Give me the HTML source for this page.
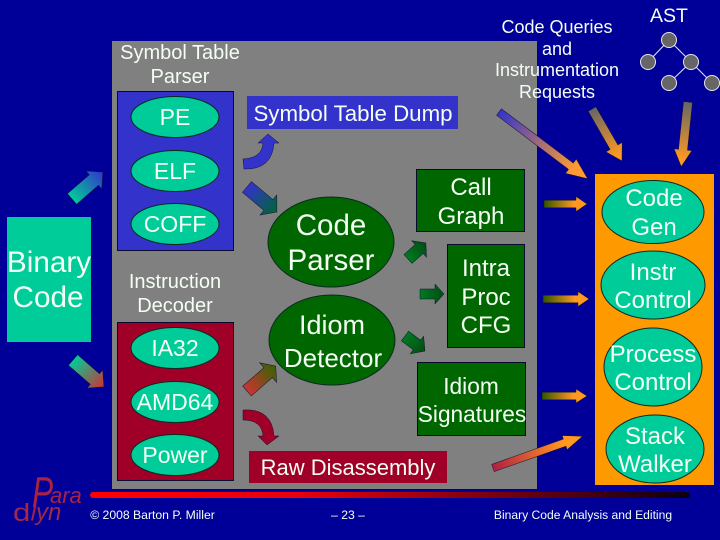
<!DOCTYPE html>
<html><head><meta charset="utf-8"><style>
html,body{margin:0;padding:0;background:#000099}
svg{display:block}
text{font-family:"Liberation Sans",sans-serif;fill:#f4fff4;text-anchor:middle}
.e{stroke:#0a2a20;stroke-width:1}
.b{stroke:#0a0a30;stroke-width:1}
.a{stroke:#101030;stroke-width:.5}
</style></head><body>
<svg width="720" height="540" viewBox="0 0 720 540" xmlns="http://www.w3.org/2000/svg">
<defs>
<linearGradient id="g1"><stop offset="0" stop-color="#00cc99"/><stop offset="1" stop-color="#3333cc"/></linearGradient>
<linearGradient id="g2"><stop offset="0" stop-color="#00cc99"/><stop offset="1" stop-color="#cc3333"/></linearGradient>
<linearGradient id="g3"><stop offset="0" stop-color="#3333cc"/><stop offset="1" stop-color="#006633"/></linearGradient>
<linearGradient id="g4"><stop offset="0" stop-color="#cc3333"/><stop offset="1" stop-color="#336600"/></linearGradient>
<linearGradient id="g5"><stop offset="0" stop-color="#007a22"/><stop offset="1" stop-color="#004d10"/></linearGradient>
<linearGradient id="g6"><stop offset="0" stop-color="#3333cc"/><stop offset=".85" stop-color="#ff9933"/></linearGradient>
<linearGradient id="g7"><stop offset="0" stop-color="#666666"/><stop offset=".9" stop-color="#ff9922"/></linearGradient>
<linearGradient id="g8"><stop offset="0" stop-color="#335500"/><stop offset=".7" stop-color="#ff9922"/></linearGradient>
<linearGradient id="g9"><stop offset="0" stop-color="#b02040"/><stop offset=".8" stop-color="#ff9922"/></linearGradient>
<linearGradient id="line"><stop offset="0" stop-color="#ff0000"/><stop offset=".35" stop-color="#e8000c"/><stop offset="1" stop-color="#0a0010"/></linearGradient>
</defs>
<rect width="720" height="540" fill="#000099"/>
<rect x="112" y="41" width="425" height="448" fill="#808080"/>
<rect x="90" y="492" width="600" height="6" rx="3" fill="url(#line)"/>

<!-- Symbol table parser -->
<text x="180" y="59" font-size="20">Symbol Table</text>
<text x="180" y="83" font-size="20">Parser</text>
<rect class="b" x="117.500" y="91.500" width="116" height="159" fill="#3333cc"/>
<ellipse class="e" cx="175" cy="117" rx="44" ry="20.500" fill="#00cc99"/>
<ellipse class="e" cx="175" cy="171" rx="44" ry="20.500" fill="#00cc99"/>
<ellipse class="e" cx="175" cy="224" rx="44" ry="20.500" fill="#00cc99"/>
<text x="175" y="125" font-size="23">PE</text>
<text x="175" y="179" font-size="23">ELF</text>
<text x="175" y="232" font-size="23">COFF</text>

<!-- Binary -->
<rect x="7" y="217" width="84" height="125" fill="#00cc99"/>
<text x="49" y="272" font-size="29.700">Binary</text>
<text x="48" y="307" font-size="29.700">Code</text>

<rect x="247" y="96" width="211" height="33" fill="#3333cc"/>
<text x="353" y="121" font-size="22.300">Symbol Table Dump</text>

<!-- Instruction decoder -->
<text x="175" y="288" font-size="20">Instruction</text>
<text x="175" y="312" font-size="20">Decoder</text>
<rect class="b" x="117.500" y="322.500" width="116" height="158" fill="#a00028"/>
<ellipse class="e" cx="175" cy="348" rx="44" ry="20.500" fill="#00cc99"/>
<ellipse class="e" cx="175" cy="402" rx="44" ry="20.500" fill="#00cc99"/>
<ellipse class="e" cx="175" cy="455" rx="44" ry="20.500" fill="#00cc99"/>
<text x="175" y="356" font-size="23">IA32</text>
<text x="175" y="410" font-size="23">AMD64</text>
<text x="175" y="463" font-size="23">Power</text>

<!-- Code parser / idiom -->
<ellipse class="e" cx="331" cy="242" rx="63" ry="45" fill="#006600"/>
<text x="331" y="235" font-size="29.500">Code</text>
<text x="331" y="270" font-size="29.500">Parser</text>
<ellipse class="e" cx="332" cy="340" rx="63" ry="45" fill="#006600"/>
<text x="332" y="334" font-size="27">Idiom</text>
<text x="333" y="367" font-size="26">Detector</text>

<rect x="249" y="451" width="198" height="32" fill="#a00028"/>
<text x="348" y="475" font-size="22">Raw Disassembly</text>

<!-- Green boxes -->
<rect class="b" x="416.500" y="169.500" width="108" height="62" fill="#006600"/>
<text x="471" y="195" font-size="24">Call</text>
<text x="471" y="224" font-size="24">Graph</text>
<rect class="b" x="447.500" y="244.500" width="77" height="103" fill="#006600"/>
<text x="486" y="276" font-size="24">Intra</text>
<text x="486" y="305" font-size="24">Proc</text>
<text x="486" y="333" font-size="24">CFG</text>
<rect class="b" x="417.500" y="362.500" width="108" height="73" fill="#006600"/>
<text x="471" y="394" font-size="22.700">Idiom</text>
<text x="472" y="422" font-size="22.700">Signatures</text>

<!-- Orange panel -->
<rect x="595" y="174" width="119" height="311" fill="#ff9900"/>
<ellipse class="e" cx="653" cy="212" rx="51" ry="31.500" fill="#00cc99"/>
<ellipse class="e" cx="653" cy="285" rx="52" ry="34" fill="#00cc99"/>
<ellipse class="e" cx="653" cy="367" rx="49" ry="39" fill="#00cc99"/>
<ellipse class="e" cx="655" cy="449" rx="49" ry="34" fill="#00cc99"/>
<text x="654" y="206" font-size="24">Code</text>
<text x="654" y="235" font-size="24">Gen</text>
<text x="653" y="280" font-size="24">Instr</text>
<text x="653" y="308" font-size="24">Control</text>
<text x="653" y="362" font-size="24">Process</text>
<text x="653" y="390" font-size="24">Control</text>
<text x="655" y="444" font-size="24">Stack</text>
<text x="655" y="472" font-size="24">Walker</text>

<!-- Top labels -->
<text x="557" y="33" font-size="18">Code Queries</text>
<text x="557" y="55" font-size="18">and</text>
<text x="557" y="76" font-size="18">Instrumentation</text>
<text x="557" y="98" font-size="18">Requests</text>
<text x="669" y="22" font-size="19.500">AST</text>

<!-- AST tree -->
<g stroke="#e8e8f0" stroke-width="1">
<line x1="669" y1="40" x2="648" y2="62"/><line x1="669" y1="40" x2="691" y2="62"/>
<line x1="691" y1="62" x2="669" y2="83"/><line x1="691" y1="62" x2="712" y2="83"/>
<g fill="#666666">
<circle cx="669" cy="40" r="7.500"/><circle cx="648" cy="62" r="7.500"/><circle cx="691" cy="62" r="7.500"/><circle cx="669" cy="83" r="7.500"/><circle cx="712" cy="83" r="7.500"/>
</g></g>

<!-- Arrows: local axis x, tail at 0, tip at L -->
<g class="a">
<polygon transform="translate(72,199) rotate(-41)" points="0,-7 29,-7 29,-12 41,0 29,12 29,7 0,7" fill="url(#g1)"/>
<polygon transform="translate(73,360) rotate(41)" points="0,-7 29,-7 29,-12 41,0 29,12 29,7 0,7" fill="url(#g2)"/>
<polygon transform="translate(247,187) rotate(40)" points="0,-7 28,-7 28,-13 39,0 28,13 28,7 0,7" fill="url(#g3)"/>
<polygon transform="translate(247,391) rotate(-41)" points="0,-6.500 28,-6.500 28,-13 38,0 28,13 28,6.500 0,6.500" fill="url(#g4)"/>
<polygon transform="translate(408,259) rotate(-42)" points="0,-6 15,-6 15,-11 24,0 15,11 15,6 0,6" fill="url(#g5)"/>
<polygon transform="translate(420,294)" points="0,-5 15,-5 15,-10 24,0 15,10 15,5 0,5" fill="url(#g5)"/>
<polygon transform="translate(405,336) rotate(37)" points="0,-6 15,-6 15,-11 25,0 15,11 15,6 0,6" fill="url(#g5)"/>
<polygon transform="translate(499,112) rotate(37)" points="0,-4 90,-4 90,-9 111,0 90,9 90,4 0,4" fill="url(#g6)"/>
<polygon transform="translate(592,109) rotate(60)" points="0,-4.500 44,-4.500 44,-9.500 60,0 44,9.500 44,4.500 0,4.500" fill="url(#g7)"/>
<polygon transform="translate(688,102) rotate(96)" points="0,-4.500 48,-4.500 48,-9 65,0 48,9 48,4.500 0,4.500" fill="url(#g7)"/>
<polygon transform="translate(544,204)" points="0,-3.800 32,-3.800 32,-7.500 43,0 32,7.500 32,3.800 0,3.800" fill="url(#g8)"/>
<polygon transform="translate(543,299)" points="0,-3.800 35,-3.800 35,-7.500 46,0 35,7.500 35,3.800 0,3.800" fill="url(#g8)"/>
<polygon transform="translate(542,396)" points="0,-3.800 34,-3.800 34,-7 45,0 34,7 34,3.800 0,3.800" fill="url(#g8)"/>
<polygon transform="translate(493,468) rotate(-19.500)" points="0,-3.800 76,-3.800 76,-7.500 95,0 76,7.500 76,3.800 0,3.800" fill="url(#g9)"/>
<path d="M244,169 Q272,170 274,143 L279,143 L268,134 L258,143 L263,143 Q262,158 243,159 Z" fill="#3333cc"/>
<path d="M243,410 Q272,408 274,436 L279,436 L267,445 L258,436 L263,436 Q262,420 243,420 Z" fill="#a00028"/>
</g>

<!-- Footer -->
<text x="152.500" y="519" font-size="12.200">© 2008 Barton P. Miller</text>
<text x="348" y="519" font-size="12.200">– 23 –</text>
<text x="583" y="519" font-size="12.100">Binary Code Analysis and Editing</text>

<!-- Logo -->
<g style="font-style:italic;text-anchor:start">
<line x1="35.500" y1="505" x2="32" y2="520.500" stroke="#a82244" stroke-width="2"/>
<text transform="translate(32,507) scale(.72,1)" font-size="44" style="fill:#a82244;text-anchor:start">P</text>
<text x="50" y="503" font-size="22" style="fill:#a82244;text-anchor:start">ara</text>
<text transform="translate(13,521) scale(1.25,1)" font-size="25" style="fill:#a02848;text-anchor:start;font-style:normal">d</text>
<text x="36" y="520" font-size="24" style="fill:#a02848;text-anchor:start">yn</text>
</g>
</svg>
</body></html>
